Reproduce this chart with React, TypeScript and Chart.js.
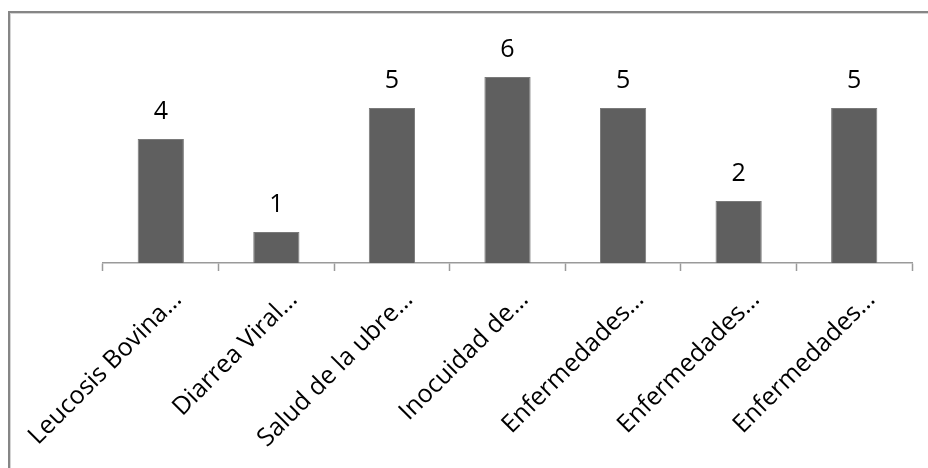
import React, { useEffect, useRef } from "react";
import { Chart, registerables } from "chart.js";

Chart.register(...registerables);

const categories: string[] = [
  "Leucosis Bovina…",
  "Diarrea Viral…",
  "Salud de la ubre…",
  "Inocuidad de…",
  "Enfermedades…",
  "Enfermedades…",
  "Enfermedades…",
];
const values: number[] = [4, 1, 5, 6, 5, 2, 5];

const FONT = "'Open Sans', 'Liberation Sans', sans-serif";

const frame = {
  id: "frame",
  beforeDraw(chart: any) {
    const ctx = chart.ctx;
    const w = chart.width;
    const h = chart.height;
    ctx.save();
    ctx.fillStyle = "#ffffff";
    ctx.fillRect(0, 0, w, h);
    ctx.fillStyle = "#868686";
    ctx.fillRect(8, 11, w - 8, 2);
    ctx.fillRect(8, 11, 2, h - 11);
    ctx.fillStyle = "#d4d4d4";
    ctx.fillRect(10, 13, w - 10, 1);
    ctx.fillRect(10, 13, 1, h - 13);
    ctx.restore();
  },
};

const valueLabels = {
  id: "valueLabels",
  afterDatasetsDraw(chart: any) {
    const ctx = chart.ctx;
    const meta = chart.getDatasetMeta(0);
    ctx.save();
    ctx.font = `25px ${FONT}`;
    ctx.fillStyle = "#000000";
    ctx.textAlign = "center";
    ctx.textBaseline = "alphabetic";
    meta.data.forEach((bar: any, i: number) => {
      ctx.fillText(String(values[i]), bar.x, bar.y - 20);
    });
    ctx.restore();
  },
};

export default function App() {
  const ref = useRef<HTMLCanvasElement | null>(null);
  useEffect(() => {
    if (!ref.current) return;
    const chart = new Chart(ref.current, {
      type: "bar",
      data: {
        labels: categories,
        datasets: [
          {
            data: values,
            backgroundColor: "#5f5f5f",
            borderColor: "#7a7a7a",
            borderWidth: 1,
            barPercentage: 0.4,
            categoryPercentage: 1,
          },
        ],
      },
      options: {
        responsive: false,
        animation: false,
        devicePixelRatio: 1,
        layout: { padding: { left: 103, right: 16, top: 46, bottom: 0 } },
        plugins: { legend: { display: false }, tooltip: { enabled: false } },
        scales: {
          y: { display: false, min: 0, max: 7 },
          x: {
            offset: true,
            grid: {
              offset: true,
              drawOnChartArea: false,
              drawTicks: true,
              tickLength: 8,
              tickColor: "#9a9a9a",
              tickWidth: 1.5,
            },
            border: { display: true, color: "#9a9a9a", width: 1.5 },
            ticks: {
              autoSkip: false,
              maxRotation: 45,
              minRotation: 45,
              padding: 14,
              labelOffset: 17,
              color: "#000000",
              font: { family: FONT, size: 25 },
            },
            afterFit: (scale: any) => {
              scale.height = 205;
              scale.paddingLeft = 0;
              scale.paddingRight = 0;
            },
          },
        },
      },
      plugins: [frame, valueLabels],
    });
    return () => chart.destroy();
  }, []);

  return (
    <div style={{ position: "fixed", left: 0, top: 0, width: 928, height: 468, overflow: "hidden" }}>
      <canvas ref={ref} width={928} height={468} style={{ display: "block" }} />
    </div>
  );
}
